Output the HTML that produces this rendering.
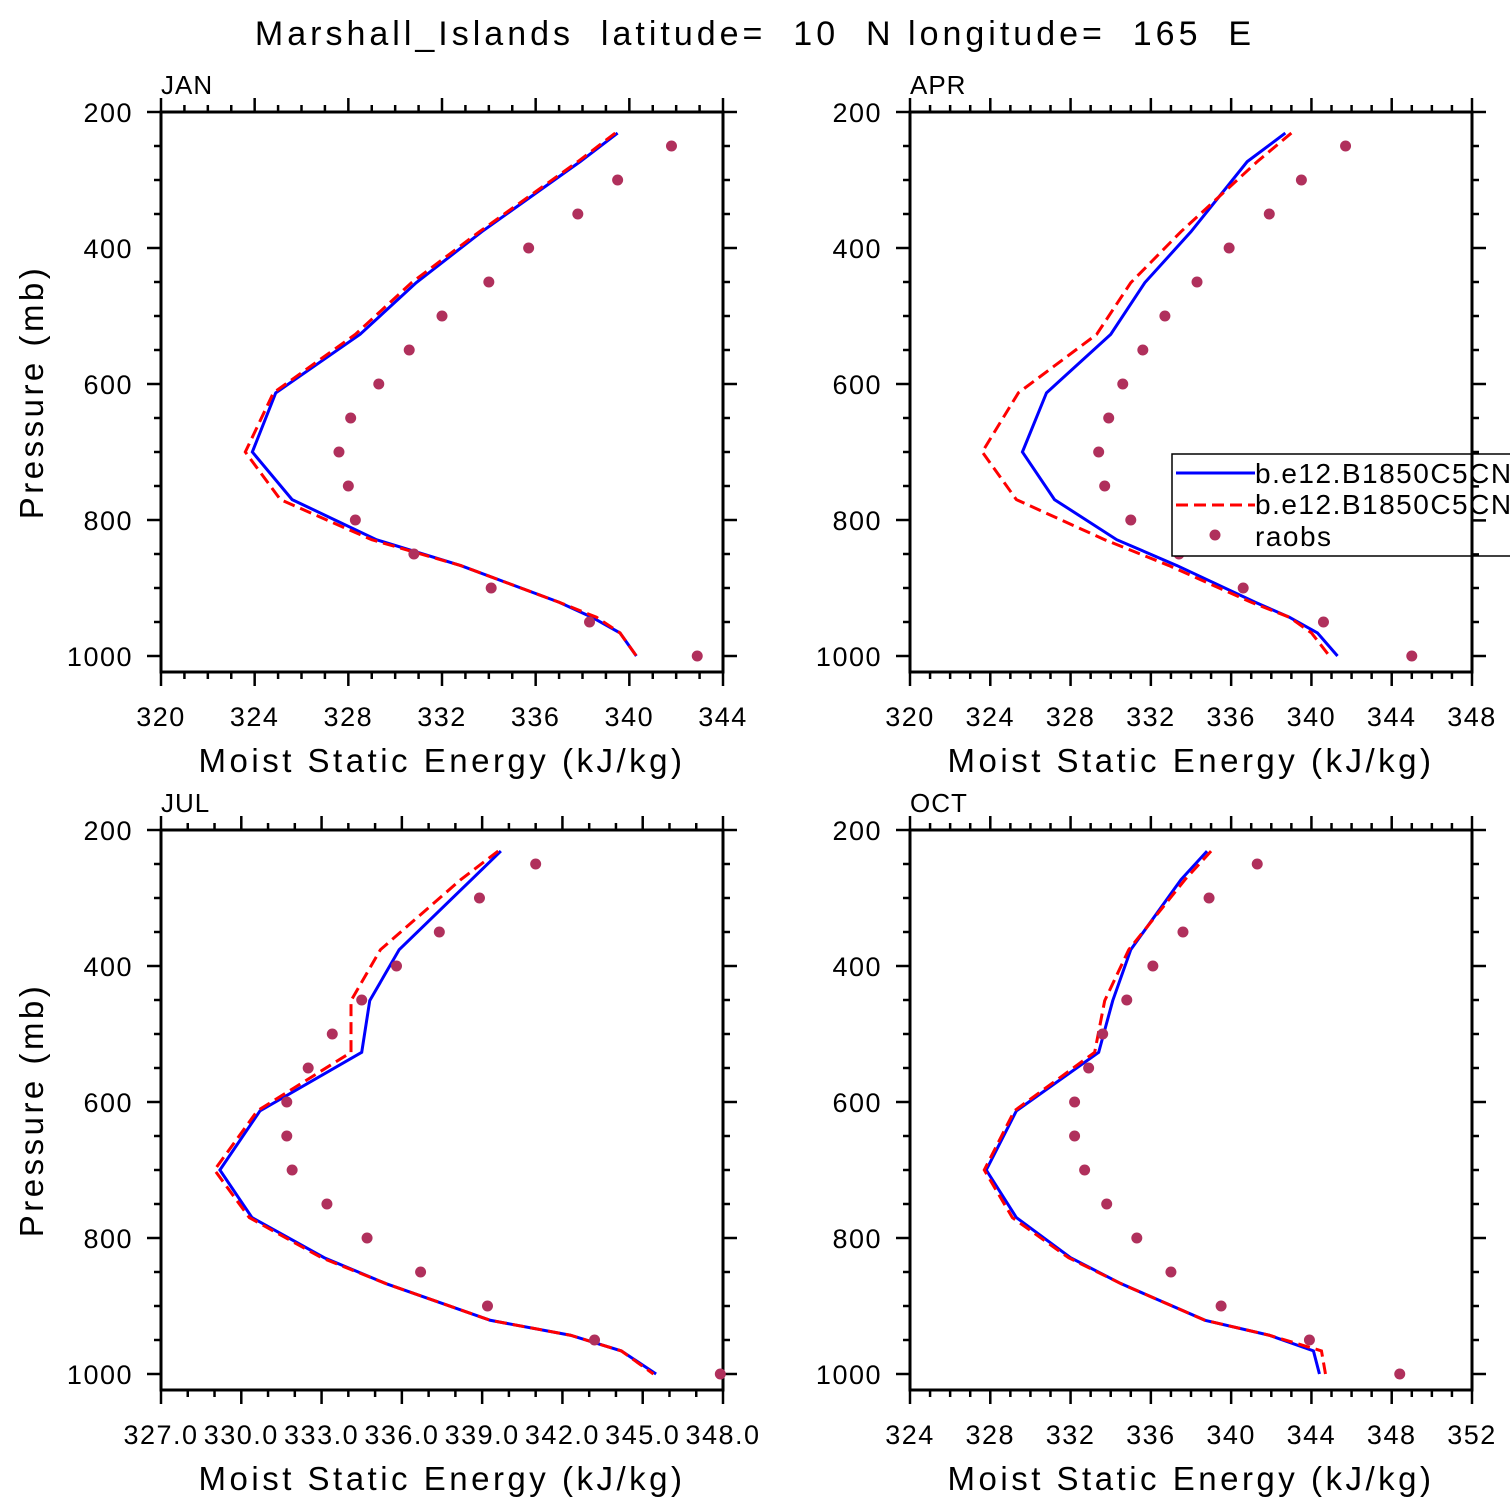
<!DOCTYPE html>
<html><head><meta charset="utf-8">
<style>
html,body{margin:0;padding:0;background:#fff;}
svg{display:block;font-family:"Liberation Sans",sans-serif;}
text{white-space:pre;}
</style></head>
<body>
<svg id="chart" width="1510" height="1510" viewBox="0 0 1510 1510" xmlns="http://www.w3.org/2000/svg">
<rect width="1510" height="1510" fill="#fff"/>
<text x="755" y="45" font-size="34" text-anchor="middle" letter-spacing="4" xml:space="preserve">Marshall_Islands  latitude=  10  N longitude=  165  E</text>
</svg>
<script>
const modelLevels=[231,273,376,451,527,613,700,770,829,867,921,943,966,1000];
const obsLevels=[250,300,350,400,450,500,550,600,650,700,750,800,850,900,950,1000];
const janBlue=[339.5,337.9,333.7,330.9,328.5,324.9,323.9,325.6,329.2,332.8,337.0,338.4,339.6,340.3];
const janRed=[339.4,337.8,333.6,330.7,328.3,324.8,323.6,325.1,329.0,332.8,337.0,338.6,339.6,340.3];
const janObs=[341.8,339.5,337.8,335.7,334.0,332.0,330.6,329.3,328.1,327.6,328.0,328.3,330.8,334.1,338.3,342.9];
const aprBlue=[338.7,336.8,334.0,331.7,330.0,326.8,325.6,327.2,330.3,333.3,337.2,338.9,340.3,341.3];
const aprRed=[339.0,337.3,333.5,331.0,329.3,325.4,323.6,325.3,329.7,332.9,337.0,338.9,340.0,340.9];
const aprObs=[341.7,339.5,337.9,335.9,334.3,332.7,331.6,330.6,329.9,329.4,329.7,331.0,333.4,336.6,340.6,345.0];
const julBlue=[339.7,338.6,335.9,334.8,334.5,330.7,329.2,330.4,333.1,335.4,339.3,342.3,344.2,345.5];
const julRed=[339.6,338.2,335.2,334.1,334.1,330.6,329.0,330.3,333.0,335.4,339.3,342.3,344.2,345.4];
const julObs=[341.0,338.9,337.4,335.8,334.5,333.4,332.5,331.7,331.7,331.9,333.2,334.7,336.7,339.2,343.2,347.9];
const octBlue=[338.8,337.5,335.0,334.1,333.4,329.3,327.8,329.3,332.0,334.5,338.7,341.9,344.1,344.4];
const octRed=[339.0,337.7,334.9,333.7,333.2,329.2,327.7,329.1,331.9,334.5,338.7,341.9,344.5,344.7];
const octObs=[341.3,338.9,337.6,336.1,334.8,333.6,332.9,332.2,332.2,332.7,333.8,335.3,337.0,339.5,343.9,348.4];
const janTicks=["320","324","328","332","336","340","344"];
const aprTicks=["320","324","328","332","336","340","344","348"];
const julTicks=["327.0","330.0","333.0","336.0","339.0","342.0","345.0","348.0"];
const octTicks=["324","328","332","336","340","344","348","352"];
const yTicks=[200,400,600,800,1000];

const NS="http://www.w3.org/2000/svg";
const svg=document.getElementById('chart');
function mk(tag,attrs,parent){const e=document.createElementNS(NS,tag);for(const k in attrs)e.setAttribute(k,attrs[k]);(parent||svg).appendChild(e);return e;}

function panel(name,label,x0,y0,xmin,xmax,majStep,minStep,ticks,blue,red,obs,legend){
  const W=562,H=560,pTop=200;
  const g=mk('g',{});
  
  
  const xs=v=>x0+(v-xmin)/(xmax-xmin)*W;
  const ys=p=>y0+(p-pTop)*0.68;
  const tk=mk('g',{stroke:'#000','stroke-width':2.5},g);
  
  
  const nMin=Math.round((xmax-xmin)/minStep);
  const ratio=Math.round(majStep/minStep);
  for(let i=0;i<=nMin;i++){
    const x=xs(xmin+i*minStep),L=(i%ratio===0)?14:7;
    mk('line',{x1:x,x2:x,y1:y0+H,y2:y0+H+L},tk);
    mk('line',{x1:x,x2:x,y1:y0,y2:y0-L},tk);
  }
  for(let p=200;p<=1000;p+=50){
    const y=ys(p),L=(p%200===0)?14:7;
    mk('line',{x1:x0,x2:x0-L,y1:y,y2:y},tk);
    mk('line',{x1:x0+W,x2:x0+W+L,y1:y,y2:y},tk);
  }
  const box=mk('rect',{x:x0,y:y0,width:W,height:H,fill:'none',stroke:'#000','stroke-width':3},g);
  
  
  ticks.forEach((t,i)=>{
    const e=mk('text',{x:xs(xmin+i*majStep),y:y0+H+54,'font-size':27,'text-anchor':'middle','letter-spacing':1.5},g);
    e.textContent=t;
    
    
  });
  yTicks.forEach(p=>{
    const e=mk('text',{x:x0-28,y:ys(p)+10,'font-size':27,'text-anchor':'end','letter-spacing':1.5},g);
    e.textContent=p;
    
    
  });
  const lab=mk('text',{x:x0,y:y0-18,'font-size':26,'letter-spacing':1},g);
  lab.textContent=label;
  
  
  const xt=mk('text',{x:x0+W/2,y:y0+H+100,'font-size':33,'text-anchor':'middle','letter-spacing':3.5},g);
  xt.textContent='Moist Static Energy (kJ/kg)';
  
  
  if(x0<400){
    const yt=mk('text',{x:0,y:0,'font-size':33,'text-anchor':'middle','letter-spacing':3.5,transform:`translate(43,${y0+H/2}) rotate(-90)`},g);
    yt.textContent='Pressure (mb)';
    
    
  }
  const bl=mk('polyline',{points:blue.map((v,i)=>xs(v)+','+ys(modelLevels[i])).join(' '),fill:'none',stroke:'#0000ff','stroke-width':3},g);
  
  
  const rl=mk('polyline',{points:red.map((v,i)=>xs(v)+','+ys(modelLevels[i])).join(' '),fill:'none',stroke:'#ff0000','stroke-width':3,'stroke-dasharray':'12,6'},g);
  
  
  obs.forEach((v,i)=>{
    const c=mk('circle',{cx:xs(v),cy:ys(obsLevels[i]),r:5.5,fill:'#b0305c'},g);
    
    
  });
  if(legend){
    const lg=mk('g',{},svg);
    
    
    mk('rect',{x:1172,y:454,width:360,height:102,fill:'#fff',stroke:'#000','stroke-width':1.5},lg);
    mk('line',{x1:1176,x2:1255,y1:473,y2:473,stroke:'#0000ff','stroke-width':3},lg);
    mk('line',{x1:1176,x2:1255,y1:505,y2:505,stroke:'#ff0000','stroke-width':3,'stroke-dasharray':'12,6'},lg);
    mk('circle',{cx:1215,cy:535,r:5.5,fill:'#b0305c'},lg);
    const t1=mk('text',{x:1255,y:483,'font-size':28,'letter-spacing':1.5},lg);t1.textContent='b.e12.B1850C5CN';
    
    const t2=mk('text',{x:1255,y:514,'font-size':28,'letter-spacing':1.5},lg);t2.textContent='b.e12.B1850C5CN';
    
    const t3=mk('text',{x:1255,y:546,'font-size':28,'letter-spacing':1.5},lg);t3.textContent='raobs';
    
    mk('line',{x1:1472,x2:1472,y1:440,y2:570,stroke:'#000','stroke-width':3},lg);
    [452.4,486.4,520.4,554.4].forEach((y,i)=>{mk('line',{x1:1472,x2:1472+(i===2?14:7),y1:y,y2:y,stroke:'#000','stroke-width':2.5},lg);});
  }
}
panel('jan','JAN',161,112,320,344,4,1,janTicks,janBlue,janRed,janObs,false);
panel('apr','APR',910,112,320,348,4,1,aprTicks,aprBlue,aprRed,aprObs,true);
panel('jul','JUL',161,830,327,348,3,1,julTicks,julBlue,julRed,julObs,false);
panel('oct','OCT',910,830,324,352,4,1,octTicks,octBlue,octRed,octObs,false);
</script>
</body></html>
